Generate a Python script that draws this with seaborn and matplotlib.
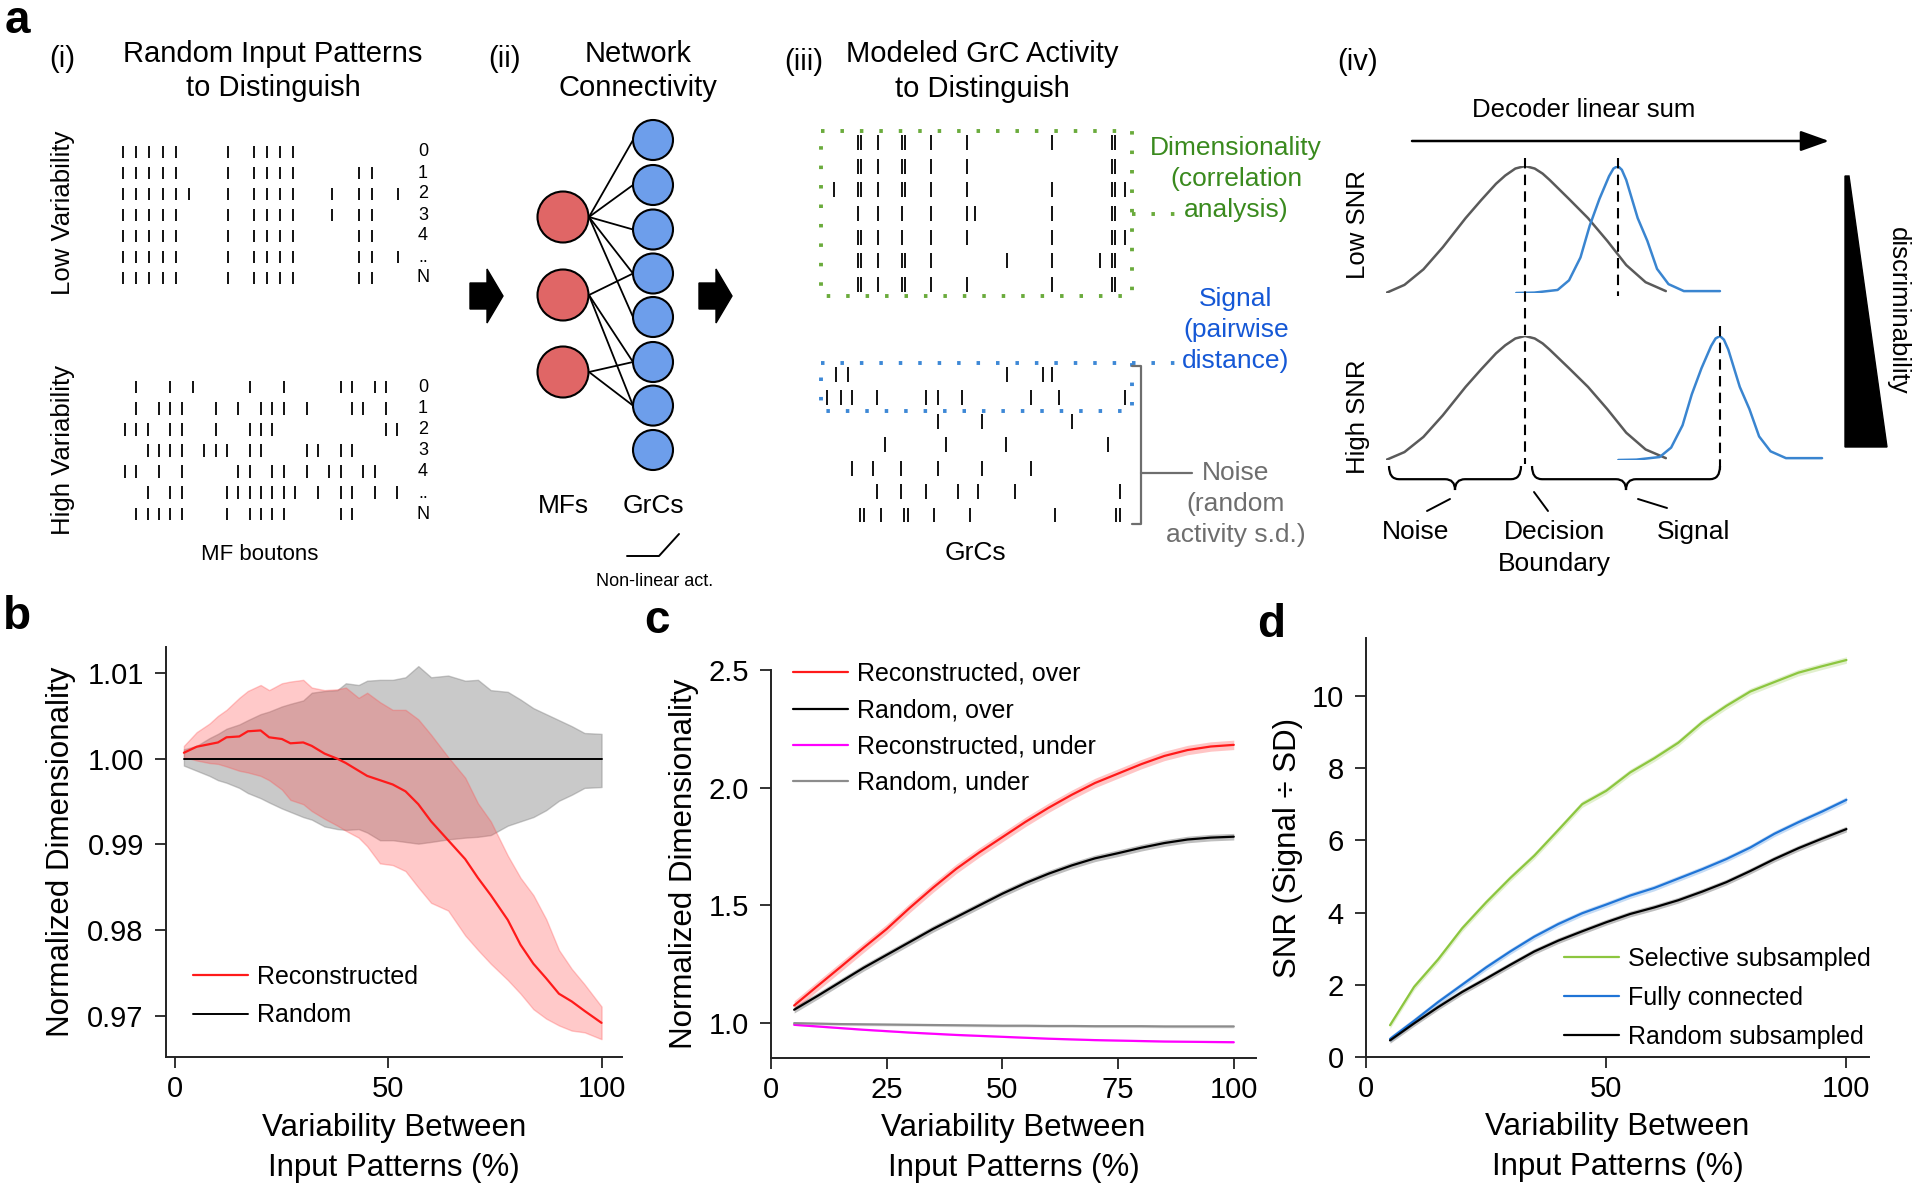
import matplotlib
matplotlib.use("Agg")
import matplotlib.pyplot as plt
import seaborn as sns
from matplotlib.patches import Circle, Polygon, Rectangle, PathPatch
from matplotlib.path import Path

W, H = 1920, 1184

# ---------------- panel a data ----------------
# (i) active MF boutons (column index) for each input pattern
low_var_rows = [
    [0, 1, 2, 3, 4, 8, 10, 11, 12, 13],
    [0, 1, 2, 3, 4, 8, 10, 11, 12, 13, 18, 19],
    [0, 1, 2, 3, 4, 5, 8, 10, 11, 12, 13, 16, 18, 19, 21],
    [0, 1, 2, 3, 4, 8, 10, 11, 12, 13, 16, 18, 19],
    [0, 1, 2, 3, 4, 8, 10, 11, 12, 13, 18, 19],
    [0, 1, 2, 3, 4, 8, 10, 11, 12, 13, 18, 19, 21],
    [0, 1, 2, 3, 4, 8, 10, 11, 12, 13, 18, 19],
]
high_var_rows = [
    [1, 4, 6, 11, 14, 19, 20, 22, 23],
    [1, 3, 4, 5, 8, 10, 12, 13, 14, 16, 20, 21, 23],
    [0, 1, 2, 4, 5, 8, 11, 12, 13, 23, 24],
    [2, 3, 4, 5, 7, 8, 9, 11, 12, 16, 17, 19, 20],
    [0, 1, 3, 5, 10, 11, 13, 14, 16, 18, 19, 21, 22],
    [2, 4, 5, 9, 10, 11, 12, 13, 14, 15, 17, 19, 20, 22, 24],
    [1, 2, 3, 4, 5, 9, 11, 12, 13, 14, 19, 20],
]
pattern_labels = ["0", "1", "2", "3", "4", "..", "N"]

# (iii) modeled GrC activity
grc_top_rows = [
    [26.5, 27.2, 32.0, 38.5, 39.2, 46.2, 56.0, 79.0, 95.0, 95.8],
    [26.5, 27.2, 32.0, 38.5, 39.2, 46.2, 56.0, 95.0, 95.8],
    [20.0, 26.5, 27.2, 32.0, 38.5, 39.2, 46.2, 56.0, 79.0, 95.0, 95.8, 98.5],
    [26.5, 32.0, 38.5, 46.2, 56.0, 58.0, 79.0, 95.0, 95.8],
    [26.5, 27.2, 32.0, 38.5, 46.2, 56.0, 79.0, 95.0, 95.8, 98.5],
    [26.5, 27.2, 32.0, 38.5, 39.2, 46.2, 66.8, 79.0, 91.8, 95.0, 95.8],
    [26.5, 27.2, 32.0, 38.5, 39.2, 46.2, 56.0, 79.0, 95.0, 95.8],
]
grc_bottom_rows = [
    [20.5, 23.8, 66.8, 76.5, 79.0],
    [18.2, 21.8, 25.0, 31.5, 44.8, 48.0, 54.5, 73.2, 80.8, 98.5],
    [48.0, 60.0, 84.2],
    [33.8, 50.2, 66.5, 94.0],
    [24.8, 30.5, 38.0, 48.0, 60.0, 73.2],
    [31.5, 38.0, 44.8, 53.5, 59.0, 68.8, 97.2],
    [27.0, 28.0, 32.8, 39.0, 40.0, 47.0, 56.8, 79.8, 96.2, 97.2],
]

# (iv) decoder-sum distributions (offset from mean, relative height)
noise_dx = [-31.6, -27.4, -23.1, -18.7, -13.5, -10.0, -6.6, -4.5, -2.2, 0.0, 2.2, 4.0,
            5.6, 10.0, 14.3, 18.7, 23.0, 27.4, 32.0]
noise_h = [0.0, 0.064, 0.186, 0.36, 0.59, 0.73, 0.86, 0.925, 0.98, 1.0, 0.98, 0.94,
           0.89, 0.74, 0.59, 0.41, 0.22, 0.085, 0.015]
signal_dx = [-23.1, -19.0, -13.7, -11.1, -8.5, -6.4, -4.2, -2.0, -1.0, 0.0, 0.9, 1.9, 4.5,
             6.7, 8.9, 11.5, 15.0, 19.3, 23.2]
signal_h = [0.0, 0.003, 0.024, 0.10, 0.28, 0.53, 0.74, 0.92, 0.98, 1.0, 0.97, 0.89, 0.59,
            0.41, 0.19, 0.07, 0.015, 0.015, 0.015]
noise_mean = 31.6
signal_mean_low = 52.7
signal_mean_high = 75.9

# ---------------- panel b data ----------------
b_x = [2, 5, 8, 10, 12, 15, 17, 20, 22, 25, 27, 30, 32, 35, 38, 40, 43, 45, 48, 51,
       54, 57, 60, 64, 68, 71, 74, 78, 81, 84, 87, 90, 93, 96, 100]
b_recon = [1.0007, 1.0014, 1.0017, 1.0019, 1.0025, 1.0026, 1.0032, 1.0033, 1.0025, 1.0023,
           1.0018, 1.0019, 1.0015, 1.0006, 1.0000, 0.9995, 0.9986, 0.9980, 0.9975, 0.9970,
           0.9962, 0.9947, 0.9927, 0.9905, 0.9883, 0.9861, 0.9841, 0.9812, 0.9783, 0.9761,
           0.9744, 0.9726, 0.9717, 0.9706, 0.9692]
b_recon_hi = [1.0015, 1.0031, 1.0041, 1.0050, 1.0057, 1.0071, 1.0079, 1.0086, 1.0080, 1.0088,
              1.0090, 1.0092, 1.0083, 1.0080, 1.0081, 1.0083, 1.0071, 1.0077, 1.0066, 1.0057,
              1.0057, 1.0046, 1.0028, 1.0002, 0.9978, 0.9948, 0.9927, 0.9887, 0.9861, 0.9841,
              0.9813, 0.9777, 0.9755, 0.9737, 0.9711]
b_recon_lo = [1.0002, 0.9998, 0.9995, 0.9994, 0.9991, 0.9986, 0.9984, 0.9980, 0.9975, 0.9964,
              0.9952, 0.9947, 0.9939, 0.9930, 0.9922, 0.9916, 0.9908, 0.9898, 0.9878, 0.9876,
              0.9869, 0.9850, 0.9832, 0.9823, 0.9794, 0.9777, 0.9761, 0.9742, 0.9726, 0.9708,
              0.9697, 0.9689, 0.9683, 0.9681, 0.9673]
b_rand = [1.0] * 35
b_rand_hi = [1.0011, 1.0015, 1.0024, 1.0029, 1.0035, 1.0040, 1.0045, 1.0052, 1.0055, 1.0061,
             1.0064, 1.0068, 1.0077, 1.0079, 1.0080, 1.0088, 1.0086, 1.0091, 1.0092, 1.0092,
             1.0095, 1.0108, 1.0095, 1.0097, 1.0091, 1.0092, 1.0080, 1.0078, 1.0069, 1.0059,
             1.0052, 1.0045, 1.0038, 1.0030, 1.0029]
b_rand_lo = [0.9992, 0.9986, 0.9980, 0.9975, 0.9972, 0.9966, 0.9960, 0.9954, 0.9949, 0.9942,
             0.9938, 0.9932, 0.9929, 0.9921, 0.9918, 0.9917, 0.9918, 0.9914, 0.9905, 0.9905,
             0.9903, 0.9901, 0.9903, 0.9906, 0.9908, 0.9909, 0.9911, 0.9922, 0.9927, 0.9932,
             0.9940, 0.9951, 0.9958, 0.9966, 0.9967]

# ---------------- panel c data ----------------
c_x = [5, 10, 15, 20, 25, 30, 35, 40, 45, 50, 55, 60, 65, 70, 75, 80, 85, 90, 95, 100]
c_recon_over = [1.075, 1.157, 1.238, 1.32, 1.40, 1.49, 1.575, 1.655, 1.725, 1.79,
                1.855, 1.915, 1.97, 2.02, 2.06, 2.10, 2.135, 2.16, 2.175, 2.182]
c_rand_over = [1.057, 1.115, 1.175, 1.235, 1.29, 1.345, 1.40, 1.45, 1.50, 1.55,
               1.595, 1.635, 1.67, 1.70, 1.722, 1.745, 1.765, 1.78, 1.788, 1.792]
c_recon_under = [0.993, 0.986, 0.979, 0.972, 0.966, 0.96, 0.955, 0.95, 0.946, 0.942,
                 0.938, 0.934, 0.931, 0.928, 0.926, 0.924, 0.922, 0.921, 0.92, 0.919]
c_rand_under = [1.0, 0.998, 0.996, 0.995, 0.994, 0.993, 0.992, 0.991, 0.99, 0.989,
                0.989, 0.988, 0.988, 0.987, 0.987, 0.987, 0.986, 0.986, 0.986, 0.986]
c_sd = [0.02, 0.014, 0.003, 0.006]

# ---------------- panel d data ----------------
d_x = [5, 10, 15, 20, 25, 30, 35, 40, 45, 50, 55, 60, 65, 70, 75, 80, 85, 90, 95, 100]
d_selective = [0.88, 1.94, 2.7, 3.56, 4.28, 4.95, 5.57, 6.28, 7.0, 7.37,
               7.88, 8.27, 8.7, 9.27, 9.72, 10.12, 10.38, 10.64, 10.82, 10.99]
d_full = [0.5, 1.0, 1.52, 2.0, 2.48, 2.92, 3.33, 3.68, 3.98, 4.22,
          4.47, 4.68, 4.94, 5.2, 5.48, 5.8, 6.18, 6.5, 6.8, 7.12]
d_random = [0.46, 0.93, 1.38, 1.8, 2.17, 2.55, 2.92, 3.22, 3.48, 3.73,
            3.96, 4.14, 4.34, 4.58, 4.84, 5.15, 5.48, 5.78, 6.05, 6.31]
d_sd = [0.09, 0.08, 0.08]

# ---------------- style ----------------
sns.set_theme(style="ticks", rc={"axes.edgecolor": "#222222", "xtick.color": "#222222",
                                 "ytick.color": "#222222", "text.color": "black",
                                 "axes.labelcolor": "black"})
plt.rcParams["font.family"] = ["Liberation Sans", "DejaVu Sans"]

fig = plt.figure(figsize=(W / 100, H / 100), dpi=100)


def px_axes(l, t, r, b):
    return fig.add_axes([l / W, 1 - b / H, (r - l) / W, (b - t) / H])


def style_axes(ax):
    sns.despine(ax=ax)
    ax.tick_params(direction="out", length=8, width=1.3, labelsize=21, labelcolor="black")
    ax.tick_params(axis="x", pad=5)
    ax.tick_params(axis="y", pad=8)
    for s in ["left", "bottom"]:
        ax.spines[s].set_linewidth(1.4)
    ax.set_facecolor("none")


def place_labels(ax, ylab, xl_y, yl_x):
    ax.set_xlabel("Variability Between\nInput Patterns (%)", fontsize=22.5, linespacing=1.45)
    ax.set_ylabel(ylab, fontsize=22.5)
    ax.xaxis.set_label_coords(0.5, xl_y)
    ax.xaxis.label.set_va("center")
    ax.yaxis.set_label_coords(yl_x, 0.5)
    ax.yaxis.label.set_va("center")


def legend_at(ax, handles, labels, x, y, spacing):
    ax.legend(handles, labels, loc="upper left", bbox_to_anchor=(x / W, 1 - y / H),
              bbox_transform=fig.transFigure, frameon=False, fontsize=18,
              borderpad=0, borderaxespad=0, handlelength=2.2, handletextpad=0.35,
              labelspacing=spacing)


# ---------------- panel b ----------------
ax_b = px_axes(166, 647, 622, 1057)
ax_b.fill_between(b_x, b_rand_lo, b_rand_hi, color="#808080", alpha=0.42, lw=1)
ax_b.fill_between(b_x, b_recon_lo, b_recon_hi, color="#ff4d4d", alpha=0.3, lw=1)
sns.lineplot(x=b_x, y=b_rand, color="black", lw=1.4, ax=ax_b)
sns.lineplot(x=b_x, y=b_recon, color="#ff1a1a", lw=1.6, ax=ax_b)
ax_b.set_xlim(-2.2, 104.8)
ax_b.set_ylim(0.96522, 1.01303)
ax_b.set_xticks([0, 50, 100])
ax_b.set_yticks([0.97, 0.98, 0.99, 1.00, 1.01])
ax_b.set_yticklabels(["0.97", "0.98", "0.99", "1.00", "1.01"])
style_axes(ax_b)
place_labels(ax_b, "Normalized Dimensionality", -0.222, -0.23)
lines_b = ax_b.get_lines()
legend_at(ax_b, [lines_b[1], lines_b[0]], ["Reconstructed", "Random"], 193, 965, 0.58)

# ---------------- panel c ----------------
ax_c = px_axes(771, 670, 1256, 1058)
c_series = [(c_recon_over, "#ff1a1a", "Reconstructed, over"),
            (c_rand_over, "black", "Random, over"),
            (c_recon_under, "#ff00ff", "Reconstructed, under"),
            (c_rand_under, "#8c8c8c", "Random, under")]
c_handles = []
for (vals, col, lab), sd in zip(c_series, c_sd):
    ax_c.fill_between(c_x, [v - sd for v in vals], [v + sd for v in vals],
                      color=col, alpha=0.25, lw=0)
    sns.lineplot(x=c_x, y=vals, color=col, lw=1.6, ax=ax_c)
    c_handles.append(ax_c.get_lines()[-1])
ax_c.set_xlim(0, 104.8)
ax_c.set_ylim(0.852, 2.5)
ax_c.set_xticks([0, 25, 50, 75, 100])
ax_c.set_yticks([1.0, 1.5, 2.0, 2.5])
ax_c.set_yticklabels(["1.0", "1.5", "2.0", "2.5"])
style_axes(ax_c)
place_labels(ax_c, "Normalized Dimensionality", -0.232, -0.18)
legend_at(ax_c, c_handles, [s[2] for s in c_series], 793, 662, 0.49)

# ---------------- panel d ----------------
ax_d = px_axes(1366, 638, 1869, 1057)
d_series = [(d_selective, "#8cc63f", "Selective subsampled"),
            (d_full, "#1f74d6", "Fully connected"),
            (d_random, "black", "Random subsampled")]
d_handles = []
for (vals, col, lab), sd in zip(d_series, d_sd):
    ax_d.fill_between(d_x, [v - sd for v in vals], [v + sd for v in vals],
                      color=col, alpha=0.25, lw=0)
    sns.lineplot(x=d_x, y=vals, color=col, lw=1.6, ax=ax_d)
    d_handles.append(ax_d.get_lines()[-1])
ax_d.set_xlim(0, 104.7)
ax_d.set_ylim(0, 11.6)
ax_d.set_xticks([0, 50, 100])
ax_d.set_yticks([0, 2, 4, 6, 8, 10])
style_axes(ax_d)
place_labels(ax_d, "SNR (Signal \u00f7 SD)", -0.215, -0.155)
legend_at(ax_d, d_handles, [s[2] for s in d_series], 1564, 947, 0.6)

# ---------------- panel a rasters ----------------
def raster(ax, rows, xlim, length, lw):
    ax.eventplot(rows, orientation="horizontal", lineoffsets=list(range(len(rows))),
                 linelengths=length, linewidths=lw, colors="black")
    ax.set_xlim(*xlim)
    ax.set_ylim(len(rows) - 0.5, -0.5)
    ax.axis("off")


raster(px_axes(116.8, 141.5, 404.3, 288.5), low_var_rows, (-0.5, 21.5), 0.6, 1.3)
raster(px_axes(119.3, 376.4, 403.0, 524.6), high_var_rows, (-0.5, 24.5), 0.6, 1.3)
raster(px_axes(821, 131, 1132, 296), grc_top_rows, (16.5, 100.5), 0.64, 1.3)
raster(px_axes(821, 362.8, 1132, 526.7), grc_bottom_rows, (16.5, 100.5), 0.64, 1.3)

# (iv) decoder distributions
for (top, base, sig_mean) in [(166, 293, signal_mean_low), (336, 460, signal_mean_high)]:
    ax_g = px_axes(1386, top, 1826, base)
    sns.lineplot(x=[noise_mean + d for d in noise_dx], y=noise_h, color="#5a5a5a",
                 lw=1.8, ax=ax_g, sort=False)
    sns.lineplot(x=[sig_mean + d for d in signal_dx], y=signal_h, color="#3a85d0",
                 lw=1.8, ax=ax_g, sort=False)
    ax_g.set_xlim(0, 100)
    ax_g.set_ylim(0, 1)
    ax_g.axis("off")
    if sig_mean == signal_mean_low:
        ax_g.plot([noise_mean] * 2, [1.06, -1.35], ls=(0, (5, 3)), color="black",
                  lw=1.5, clip_on=False)
        ax_g.plot([sig_mean] * 2, [1.06, -0.02], ls=(0, (5, 3)), color="black",
                  lw=1.5, clip_on=False)
    else:
        ax_g.plot([sig_mean] * 2, [1.08, -0.08], ls=(0, (5, 3)), color="black",
                  lw=1.5, clip_on=False)

# ---------------- panel a overlay (schematic) ----------------
ov = fig.add_axes([0, 0, 1, 1])
ov.set_xlim(0, W)
ov.set_ylim(H, 0)
ov.axis("off")
ov.patch.set_alpha(0)


def T(x, y, s, size, **kw):
    kw.setdefault("ha", "center")
    kw.setdefault("va", "center")
    ov.text(x, y, s, fontsize=size, **kw)


# panel letters
T(17, 21, "a", 33, weight="bold")
T(17, 617, "b", 33, weight="bold")
T(657, 621, "c", 33, weight="bold")
T(1271, 625, "d", 33, weight="bold")

# (i)
T(62, 59, "(i)", 21)
T(273, 54, "Random Input Patterns", 21)
T(273, 88, "to Distinguish", 21)
T(63, 213, "Low Variability", 18.5, rotation=90)
T(63, 450, "High Variability", 18.5, rotation=90)
for i, lab in enumerate(pattern_labels):
    T(423, 152 + 21 * i, lab, 13)
    T(423, 387 + 21.2 * i, lab, 13)
T(260, 555, "MF boutons", 16)

# block arrows
for x0 in (470, 699):
    yc = 296
    ov.add_patch(Polygon([(x0, yc - 13), (x0 + 17, yc - 13), (x0 + 17, yc - 27),
                          (x0 + 33, yc), (x0 + 17, yc + 27), (x0 + 17, yc + 13),
                          (x0, yc + 13)], closed=True, color="black"))

# (ii) network
T(504, 59, "(ii)", 21)
T(638, 54, "Network", 21)
T(638, 88, "Connectivity", 21)
mf_y = [217, 295, 372]
grc_y = [140, 185, 229.5, 273.5, 317, 362, 405.6, 450]
links = [(0, 0), (0, 1), (0, 2), (0, 3), (0, 4), (1, 3), (1, 5), (1, 6), (2, 5), (2, 6)]
for m, g in links:
    ov.plot([589, 633], [mf_y[m], grc_y[g]], color="black", lw=1.3, zorder=1)
for y in mf_y:
    ov.add_patch(Circle((563, y), 25.5, facecolor="#e06666", edgecolor="black", lw=1.5, zorder=2))
for y in grc_y:
    ov.add_patch(Circle((653, y), 20, facecolor="#6d9eeb", edgecolor="black", lw=1.5, zorder=2))
T(563, 506, "MFs", 19)
T(653, 506, "GrCs", 19)
ov.plot([627, 659, 679], [556, 556, 534], color="black", lw=1.4)
T(655, 582, "Non-linear act.", 13)

# (iii) GrC activity
T(804, 62, "(iii)", 21)
T(982, 54, "Modeled GrC Activity", 21)
T(982, 89, "to Distinguish", 21)
green_box, green_txt = "#6aab3c", "#3a8a1e"
blue_box, blue_txt = "#3d88d6", "#1558d6"
gray_c = "#6e6e6e"
dots = (0, (0.9, 4.1))
ov.add_patch(Rectangle((821, 131), 311, 165, fill=False, edgecolor=green_box, lw=2.8, ls=dots))
ov.plot([1132, 1178], [213.5, 213.5], color=green_box, lw=2.8, ls=dots)
ov.add_patch(Rectangle((821, 362.5), 311, 48.5, fill=False, edgecolor=blue_box, lw=2.8, ls=dots))
ov.plot([1132, 1178], [362.5, 362.5], color=blue_box, lw=2.8, ls=dots)
ov.plot([1132, 1141, 1141, 1132], [366, 366, 524, 524], color=gray_c, lw=1.6)
ov.plot([1141, 1192], [473, 473], color=gray_c, lw=1.6)
for i, s in enumerate(["Dimensionality", "(correlation", "analysis)"]):
    T(1236, 148 + 31 * i, s, 19, color=green_txt)
for i, s in enumerate(["Signal", "(pairwise", "distance)"]):
    T(1236, 299 + 31 * i, s, 19, color=blue_txt)
for i, s in enumerate(["Noise", "(random", "activity s.d.)"]):
    T(1236, 473 + 31 * i, s, 19, color=gray_c)
T(975, 553, "GrCs", 19)

# (iv) SNR schematic
T(1358, 62, "(iv)", 21)
T(1584, 110, "Decoder linear sum", 18.5)
ov.annotate("", xy=(1829, 141), xytext=(1412, 141),
            arrowprops=dict(arrowstyle="-|>,head_length=0.7,head_width=0.25",
                            lw=1.8, color="black", mutation_scale=25,
                            shrinkA=0, shrinkB=0))
T(1358, 225, "Low SNR", 18.5, rotation=90)
T(1358, 417, "High SNR", 18.5, rotation=90)


def brace(x0, x1, xt, y0, depth, r=10):
    ym, yb = y0 + depth * 0.55, y0 + depth
    verts = [(x0, y0), (x0, ym), (x0 + r, ym), (xt - r, ym), (xt, ym), (xt, yb),
             (xt, ym), (xt + r, ym), (x1 - r, ym), (x1, ym), (x1, y0)]
    codes = [Path.MOVETO, Path.CURVE3, Path.CURVE3, Path.LINETO, Path.CURVE3, Path.CURVE3,
             Path.CURVE3, Path.CURVE3, Path.LINETO, Path.CURVE3, Path.CURVE3]
    ov.add_patch(PathPatch(Path(verts, codes), fill=False, lw=1.6, edgecolor="black"))


brace(1389, 1521, 1455, 466, 24)
brace(1532, 1720, 1626, 466, 24)
ov.plot([1450, 1427], [499, 511], color="black", lw=1.4)
ov.plot([1534, 1548], [492, 511], color="black", lw=1.4)
ov.plot([1638, 1667], [499, 508], color="black", lw=1.4)
T(1416, 532, "Noise", 19)
T(1554, 532, "Decision", 19)
T(1554, 564, "Boundary", 19)
T(1694, 532, "Signal", 19)
ov.add_patch(Polygon([(1845, 176), (1849, 176), (1887, 447), (1845, 447)], closed=True,
                     color="black"))
T(1898, 311, "discriminability", 18.5, rotation=-90)

fig.savefig("out.png", dpi=100)
